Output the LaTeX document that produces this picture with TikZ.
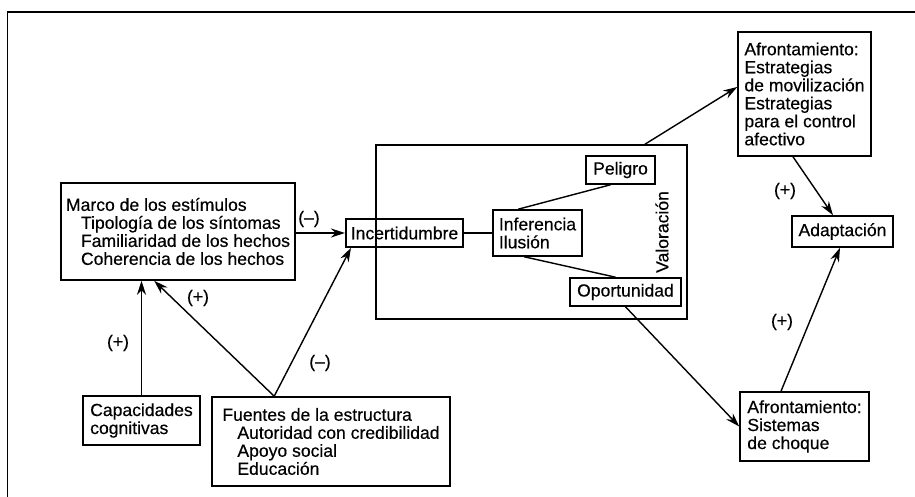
\documentclass[tikz,border=0pt]{standalone}
\usepackage{fontspec}
\setmainfont{Liberation Sans}[FakeBold=0.4]
\usetikzlibrary{arrows.meta}

\newcommand{\ind}{\hspace*{0.3cm}}

\begin{document}
\begin{tikzpicture}[every node/.style={font=\fontsize{10}{10.25}\selectfont}, >={Stealth[length=2.8mm, width=1.8mm]},
	box/.style={draw, line width=0.9pt, align=left, inner xsep=0.1cm, inner ysep=0.08cm},
	sign/.style={inner sep=1pt}]
	\useasboundingbox (0,0) rectangle (18.3,9.94);
	\draw[line width=1.1pt] (0.15,-0.1) -- (0.15,9.7) -- (18.4,9.7);
	\node[box, minimum width=6.22cm, minimum height=3.48cm] (val) at (10.63,5.30) {};
	\node[rotate=90] (valtxt) at (13.24,5.30) {Valoración};
	\node[box, minimum width=4.68cm, minimum height=1.94cm] (marco) at (3.56,5.31) {Marco de los estímulos\\ \ind Tipología de los síntomas\\ \ind Familiaridad de los hechos\\ \ind Coherencia de los hechos};
	\node[box, minimum width=2.34cm, minimum height=0.56cm] (incert) at (8.09,5.28) {Incertidumbre};
	\node[box, minimum width=1.78cm, minimum height=0.92cm] (infer) at (10.75,5.28) {Inferencia\\Ilusión};
	\node[box, minimum width=1.38cm, minimum height=0.56cm] (peligro) at (12.41,6.54) {Peligro};
	\node[box, minimum width=2.22cm, minimum height=0.56cm] (oport) at (12.51,4.10) {Oportunidad};
	\node[box, minimum width=2.66cm, minimum height=2.48cm] (afront1) at (16.09,8.06) {Afrontamiento:\\Estrategias\\de movilización\\Estrategias\\para el control\\afectivo};
	\node[box, minimum width=2.02cm, minimum height=0.62cm] (adapt) at (16.85,5.31) {Adaptación};
	\node[box, minimum width=2.58cm, minimum height=1.38cm] (afront2) at (16.09,1.41) {Afrontamiento:\\Sistemas\\de choque};
	\node[box, minimum width=2.34cm, minimum height=0.98cm] (capac) at (2.83,1.53) {Capacidades\\cognitivas};
	\node[box, minimum width=4.76cm, minimum height=1.78cm] (fuentes) at (6.62,1.11) {Fuentes de la estructura\\ \ind Autoridad con credibilidad\\ \ind Apoyo social\\ \ind Educación};
	\coordinate (fsrc) at ([xshift=1.26cm]fuentes.north west);
	\begin{scope}[line width=0.8pt]
		\draw[->] (marco.east |- incert.west) -- (incert.west);
		\draw[->] (capac.north) -- (capac.north |- marco.south);
		\draw[->] (fsrc) -- ([xshift=1.88cm]marco.south west);
		\draw[->] (fsrc) -- ([xshift=0.12cm]incert.south west);
		\draw (incert.east) -- (infer.west);
		\draw ([xshift=0.52cm]infer.north west) -- ([xshift=-0.2cm]peligro.south);
		\draw ([xshift=0.64cm]infer.south west) -- ([xshift=-0.2cm]oport.north);
		\draw[->] ([xshift=2.27cm]val.north) -- ([yshift=0.14cm]afront1.west);
		\draw[->] (oport.south) -- (afront2.west);
		\draw[->] ([xshift=-0.23cm]afront1.south) -- ([xshift=-0.19cm]adapt.north);
		\draw[->] ([xshift=-0.47cm]afront2.north) -- ([xshift=-0.05cm]adapt.south);
	\end{scope}
	\node[sign] (s1) at (6.18,5.56) {(–)};
	\node[sign] (s2) at (2.36,3.08) {(+)};
	\node[sign] (s3) at (3.96,3.98) {(+)};
	\node[sign] (s4) at (6.40,2.68) {(–)};
	\node[sign] (s5) at (15.70,6.12) {(+)};
	\node[sign] (s6) at (15.64,3.50) {(+)};
\end{tikzpicture}
\end{document}
